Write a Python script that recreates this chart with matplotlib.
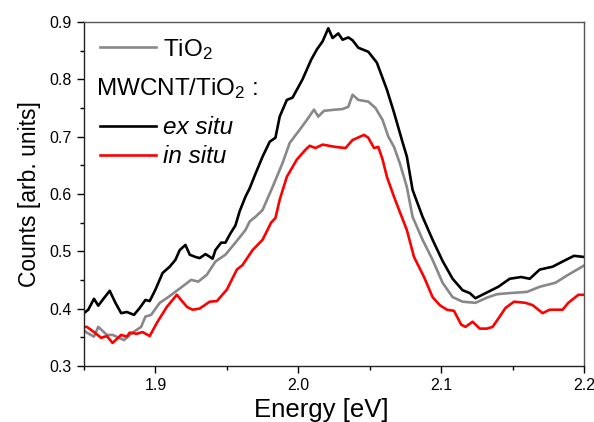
import matplotlib
matplotlib.use('Agg')
import matplotlib.pyplot as plt
from matplotlib.ticker import MultipleLocator

plt.rcParams['font.family'] = ['Liberation Sans', 'DejaVu Sans']
plt.rcParams['mathtext.fontset'] = 'custom'
plt.rcParams['mathtext.rm'] = 'Liberation Sans'
plt.rcParams['mathtext.it'] = 'Liberation Sans:italic'

# ex situ MWCNT/TiO2 (black)
ex_x = [1.850, 1.853, 1.857, 1.860, 1.863, 1.868, 1.872, 1.876, 1.880, 1.885, 1.889, 1.893,
        1.896, 1.900, 1.905, 1.910, 1.914, 1.917, 1.921, 1.924, 1.928, 1.931, 1.935, 1.937,
        1.940, 1.942, 1.946, 1.949, 1.952, 1.956, 1.959, 1.963, 1.966, 1.970, 1.975, 1.980,
        1.984, 1.987, 1.992, 1.996, 2.003, 2.009, 2.013, 2.017, 2.021, 2.024, 2.028, 2.031,
        2.035, 2.038, 2.042, 2.049, 2.055, 2.062, 2.067, 2.073, 2.076, 2.080, 2.087, 2.094,
        2.101, 2.108, 2.115, 2.120, 2.124, 2.132, 2.140, 2.148, 2.156, 2.162, 2.169, 2.178,
        2.185, 2.193, 2.200]
ex_y = [0.392, 0.398, 0.417, 0.405, 0.415, 0.431, 0.410, 0.392, 0.394, 0.389, 0.401, 0.415,
        0.413, 0.433, 0.462, 0.473, 0.485, 0.502, 0.511, 0.494, 0.490, 0.488, 0.495, 0.492,
        0.487, 0.502, 0.515, 0.515, 0.529, 0.545, 0.570, 0.595, 0.610, 0.635, 0.665, 0.691,
        0.698, 0.735, 0.764, 0.768, 0.800, 0.834, 0.852, 0.866, 0.889, 0.872, 0.880, 0.869,
        0.873, 0.868, 0.855, 0.848, 0.829, 0.782, 0.742, 0.690, 0.665, 0.607, 0.560, 0.520,
        0.483, 0.452, 0.432, 0.427, 0.418, 0.428, 0.438, 0.452, 0.455, 0.452, 0.468, 0.473,
        0.482, 0.492, 0.490]

# TiO2 (gray)
ti_x = [1.850, 1.852, 1.857, 1.860, 1.866, 1.870, 1.878, 1.884, 1.890, 1.893, 1.897, 1.903,
        1.909, 1.916, 1.925, 1.930, 1.936, 1.942, 1.949, 1.956, 1.963, 1.966, 1.970, 1.975,
        1.982, 1.989, 1.994, 2.001, 2.006, 2.011, 2.014, 2.018, 2.026, 2.031, 2.035, 2.038,
        2.042, 2.049, 2.054, 2.059, 2.063, 2.067, 2.071, 2.076, 2.080, 2.087, 2.094, 2.101,
        2.108, 2.115, 2.124, 2.132, 2.139, 2.148, 2.160, 2.169, 2.180, 2.189, 2.200]
ti_y = [0.362, 0.358, 0.351, 0.368, 0.354, 0.354, 0.345, 0.358, 0.368, 0.386, 0.389, 0.410,
        0.420, 0.433, 0.450, 0.447, 0.459, 0.482, 0.494, 0.515, 0.537, 0.552, 0.560, 0.572,
        0.612, 0.654, 0.689, 0.712, 0.729, 0.747, 0.735, 0.745, 0.747, 0.748, 0.752, 0.773,
        0.764, 0.761, 0.750, 0.729, 0.700, 0.682, 0.654, 0.612, 0.560, 0.520, 0.485, 0.445,
        0.420, 0.412, 0.410, 0.419, 0.425, 0.427, 0.429, 0.438, 0.445, 0.459, 0.475]

# in situ MWCNT/TiO2 (red)
in_x = [1.850, 1.852, 1.857, 1.862, 1.866, 1.870, 1.876, 1.880, 1.882, 1.887, 1.891, 1.896,
        1.901, 1.908, 1.915, 1.922, 1.926, 1.931, 1.938, 1.943, 1.950, 1.957, 1.961, 1.968,
        1.975, 1.981, 1.984, 1.987, 1.992, 1.999, 2.005, 2.008, 2.012, 2.017, 2.026, 2.033,
        2.038, 2.046, 2.049, 2.053, 2.056, 2.059, 2.062, 2.067, 2.071, 2.076, 2.081, 2.088,
        2.094, 2.099, 2.104, 2.109, 2.114, 2.117, 2.122, 2.127, 2.132, 2.136, 2.141, 2.145,
        2.151, 2.159, 2.164, 2.171, 2.176, 2.185, 2.189, 2.196, 2.200]
in_y = [0.368, 0.368, 0.359, 0.349, 0.352, 0.340, 0.354, 0.351, 0.358, 0.356, 0.359, 0.352,
        0.375, 0.403, 0.424, 0.403, 0.398, 0.400, 0.412, 0.413, 0.433, 0.468, 0.476, 0.502,
        0.520, 0.550, 0.558, 0.590, 0.630, 0.660, 0.677, 0.684, 0.680, 0.686, 0.682, 0.680,
        0.694, 0.703, 0.698, 0.680, 0.682, 0.660, 0.630, 0.595, 0.569, 0.537, 0.490, 0.455,
        0.420, 0.406, 0.398, 0.396, 0.372, 0.368, 0.377, 0.365, 0.365, 0.368, 0.386, 0.401,
        0.412, 0.410, 0.406, 0.392, 0.398, 0.398, 0.410, 0.424, 0.424]

fig = plt.figure(figsize=(5.94, 4.22), dpi=100)
ax = fig.add_axes([0.1414, 0.133, 0.8418, 0.815])

l_ti, = ax.plot(ti_x, ti_y, color='#888888', lw=1.9)
l_ex, = ax.plot(ex_x, ex_y, color='black', lw=1.9)
l_in, = ax.plot(in_x, in_y, color='#ff0000', lw=1.9)

ax.set_xlim(1.85, 2.2)
ax.set_ylim(0.3, 0.9)
ax.xaxis.set_minor_locator(MultipleLocator(0.05))
ax.yaxis.set_major_locator(MultipleLocator(0.1))
ax.yaxis.set_minor_locator(MultipleLocator(0.05))
ax.set_xticks([1.9, 2.0, 2.1, 2.2])
ax.set_xticklabels(['1.9', '2.0', '2.1', '2.2'])
ax.tick_params(which='major', direction='out', length=5, width=1, labelsize=11.5, pad=4)
ax.tick_params(which='minor', direction='out', length=3, width=1)
ax.tick_params(top=False, right=False)

for s in ['top', 'right']:
    ax.spines[s].set_color('#555555')
    ax.spines[s].set_linewidth(1)
for s in ['left', 'bottom']:
    ax.spines[s].set_color('#222222')
    ax.spines[s].set_linewidth(1)

ax.set_xlabel('Energy [eV]', fontsize=18.5)
ax.xaxis.set_label_coords(0.475, -0.094, transform=ax.transAxes)
ax.xaxis.label.set_va('top')
ax.set_ylabel('Counts [arb. units]', fontsize=16.5, labelpad=6)

leg1 = ax.legend([l_ti], ['TiO$_2$'], loc='upper left', bbox_to_anchor=(-0.012, 1.02),
                 frameon=False, fontsize=17.5, handlelength=2.3, handletextpad=0.3)
ax.add_artist(leg1)
ax.text(0.025, 0.805, 'MWCNT/TiO$_2$ :', transform=ax.transAxes, fontsize=17.5,
        va='center', ha='left')
leg2 = ax.legend([l_ex, l_in], ['ex situ', 'in situ'], loc='upper left',
                 bbox_to_anchor=(-0.012, 0.789), frameon=False, fontsize=17.5,
                 handlelength=2.3, handletextpad=0.3, labelspacing=0.25)
for t in leg2.get_texts():
    t.set_style('italic')

fig.savefig('out.png', dpi=100)
